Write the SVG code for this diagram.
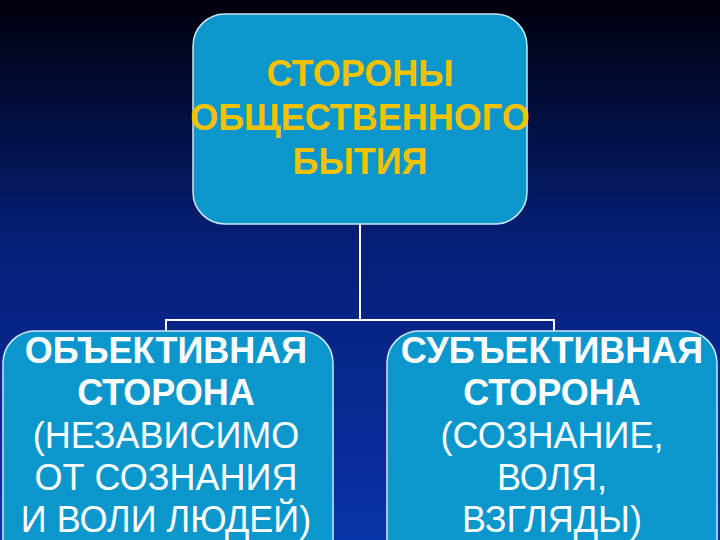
<svg xmlns="http://www.w3.org/2000/svg" width="720" height="540" viewBox="0 0 720 540">
<defs>
<linearGradient id="bg" x1="0" y1="0" x2="0" y2="1">
<stop offset="0" stop-color="#00000c"/>
<stop offset="0.45" stop-color="#061f78"/>
<stop offset="1" stop-color="#0833a8"/>
</linearGradient>
<style>
.box{fill:#0b97cc;stroke:#cfe8f5;stroke-width:1.5}
.conn{stroke:#ffffff;stroke-width:2;fill:none}
.t{font-family:"Liberation Sans",Arial,sans-serif;font-size:36px;text-anchor:middle}
.b{font-weight:bold}
.y{fill:#f2c200}
.w{fill:#ffffff}
</style>
</defs>
<rect x="0" y="0" width="720" height="540" fill="url(#bg)"/>
<g id="connectors">
<path class="conn" d="M360 224 V320 M166 332 V320 H554 V332"/>
</g>
<g id="top">
<rect class="box" x="193" y="14" width="334" height="210" rx="32"/>
<text class="t b y" x="360" y="86" font-size="37">СТОРОНЫ</text>
<text class="t b y" x="360" y="130" font-size="37">ОБЩЕСТВЕННОГО</text>
<text class="t b y" x="360" y="174" font-size="37">БЫТИЯ</text>
</g>
<g id="objective">
<rect class="box" x="3" y="331" width="330" height="240" rx="32"/>
<text class="t b w" x="166" y="363">ОБЪЕКТИВНАЯ</text>
<text class="t b w" x="166" y="405">СТОРОНА</text>
<text class="t w" x="166" y="448">(НЕЗАВИСИМО</text>
<text class="t w" x="166" y="490">ОТ СОЗНАНИЯ</text>
<text class="t w" x="166" y="532">И ВОЛИ ЛЮДЕЙ)</text>
</g>
<g id="subjective">
<rect class="box" x="387" y="331" width="330" height="240" rx="32"/>
<text class="t b w" x="552" y="363">СУБЪЕКТИВНАЯ</text>
<text class="t b w" x="552" y="405">СТОРОНА</text>
<text class="t w" x="552" y="448">(СОЗНАНИЕ,</text>
<text class="t w" x="552" y="490">ВОЛЯ,</text>
<text class="t w" x="552" y="532">ВЗГЛЯДЫ)</text>
</g>
</svg>
